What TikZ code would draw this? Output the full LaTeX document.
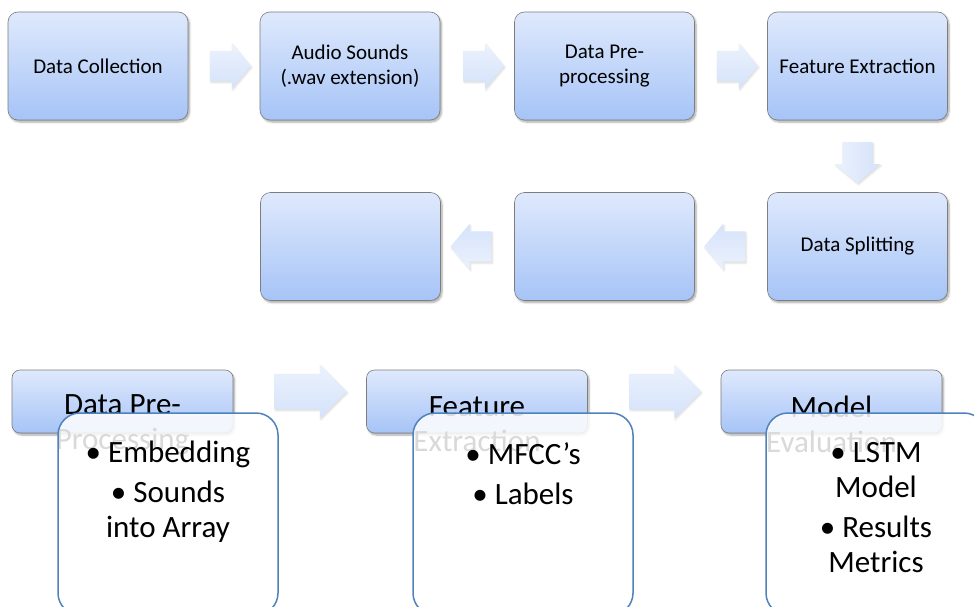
\documentclass[tikz,border=0pt]{standalone}
\usepackage{fontspec}
\setmainfont{Carlito}
\usetikzlibrary{shapes.arrows,shadows.blur,calc}

\definecolor{boxtop}{RGB}{223,233,252}
\definecolor{boxbot}{RGB}{166,196,247}
\definecolor{boxline}{RGB}{125,125,125}
\definecolor{arrtop}{RGB}{236,242,253}
\definecolor{arrbot}{RGB}{212,226,250}
\definecolor{listline}{RGB}{79,129,189}

\begin{document}
\begin{tikzpicture}[x=1pt, y=-1pt,
  stepbox/.style={rectangle, rounded corners=10pt, draw=boxline, line width=0.6pt,
    top color=boxtop, bottom color=boxbot, minimum width=180pt,
    minimum height=108pt, align=center, inner sep=2pt,
    font=\fontsize{21}{25.5}\selectfont,
    blur shadow={shadow xshift=1.5pt, shadow yshift=-2pt,
      shadow blur steps=6, shadow opacity=35}},
  headbox/.style={stepbox, minimum width=221pt, minimum height=63pt,
    rounded corners=8pt},
  headtext/.style={align=center, inner sep=0pt, font=\fontsize{31}{35}\selectfont},
  listbox/.style={rectangle, rounded corners=22pt, draw=listline,
    line width=1.5pt, fill=white, fill opacity=0.85,
    minimum width=220pt, minimum height=202pt},
  listtext/.style={align=center, inner sep=0pt, anchor=north,
    font=\fontsize{31}{35}\selectfont},
  flow/.style={single arrow, draw=none, inner sep=0pt, text height=15pt,
    text depth=15pt, single arrow head extend=7.5pt,
    single arrow tip angle=100, minimum height=41pt,
    top color=arrtop, bottom color=arrbot,
    blur shadow={shadow xshift=1pt, shadow yshift=-1.5pt,
      shadow blur steps=4, shadow opacity=15}},
  bigflow/.style={flow, text height=17.5pt, text depth=17.5pt,
    single arrow head extend=9pt, single arrow tip angle=90,
    minimum height=72pt}]
  \useasboundingbox (0,0) rectangle (974,607);
  \clip (0,0) rectangle (974,607);

  % process flow, first row left to right
  \node[stepbox] (s1) at (98,66)    {Data Collection};
  \node[stepbox] (s2) at (350,66)   {Audio Sounds\\(.wav extension)};
  \node[stepbox] (s3) at (604.5,66) {Data Pre-\\processing};
  \node[stepbox] (s4) at (857.5,66) {Feature Extraction};
  % second row right to left
  \node[stepbox] (s5) at (857.5,246.5) {Data Splitting};
  \node[stepbox] (s6) at (604.5,246.5) {};
  \node[stepbox] (s7) at (350.5,246.5) {};

  \foreach \a/\b in {s1/s2, s2/s3, s3/s4}
    \node[flow] (f\a) at ($(\a.east)!0.5!(\b.west)$) {};
  \node[flow, rotate=-90, shading angle=90] (fs4) at ($(s4.south)!0.5!(s5.north)$) {};
  \foreach \a/\b in {s5/s6, s6/s7}
    \node[flow, rotate=180, shading angle=180] (f\a) at ($(\a.west)!0.5!(\b.east)$) {};

  % stage headers
  \node[headbox] (h1) at (122.5,401.5) {};
  \node[headbox] (h2) at (477,401.5)   {};
  \node[headbox] (h3) at (831.5,401.5) {};
  \node[headtext] (h1t) at ($(h1.center)+(0,23)$) {Data Pre-\\Processing};
  \node[headtext] (h2t) at ($(h2.center)+(0,23)$) {Feature\\Extraction};
  \node[headtext] (h3t) at ($(h3.center)+(0,23)$) {Model\\Evaluation};
  \node[bigflow] (g1) at ($(h1.east)!0.5!(h2.west)+(2,-10)$) {};
  \node[bigflow] (g2) at ($(h2.east)!0.5!(h3.west)+(2,-10)$) {};

  % bullet lists over the headers
  \node[listbox] (l1) at (168,514) {};
  \node[listbox] (l2) at (523,514) {};
  \node[listbox] (l3) at (876,514) {};
  \node[listtext] (l1t) at ($(l1.north)+(0,29)$)
    {\textbullet\ Embedding\\[5pt]\textbullet\ Sounds\\into Array};
  \node[listtext] (l2t) at ($(l2.north)+(0,30)$)
    {\textbullet\ MFCC’s\\[5pt]\textbullet\ Labels};
  \node[listtext] (l3t) at ($(l3.north)+(0,30)$)
    {\textbullet\ LSTM\\Model\\[5pt]\textbullet\ Results\\Metrics};
\end{tikzpicture}
\end{document}
